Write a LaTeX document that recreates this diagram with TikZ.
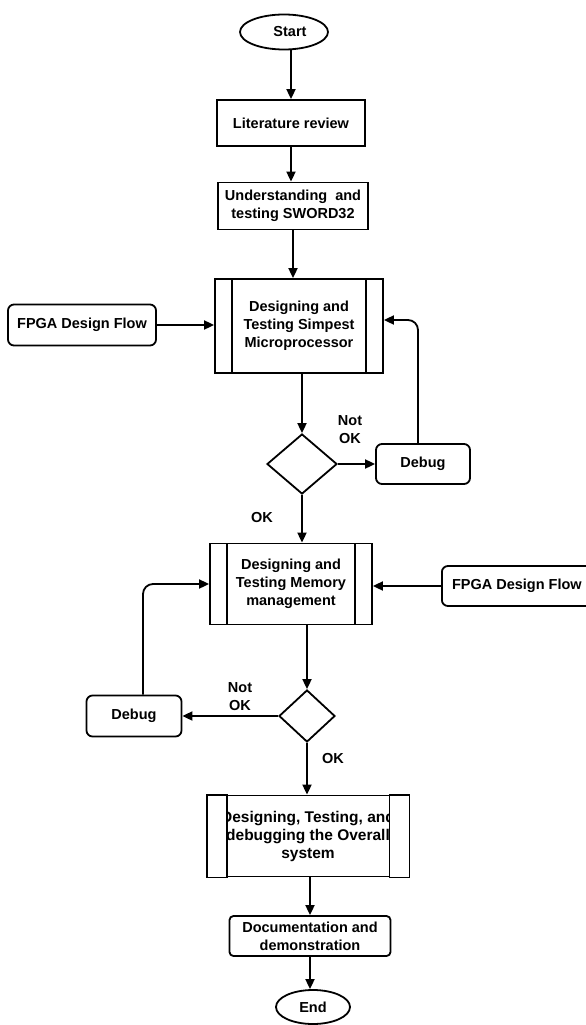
\documentclass[tikz,border=0pt]{standalone}
\usepackage{fontspec}
\setmainfont{Liberation Sans}
\usetikzlibrary{arrows.meta,shapes.geometric}

\begin{document}
\begin{tikzpicture}[x=1pt,y=-1pt,
  every node/.style={font=\bfseries\fontsize{14.5}{18}\selectfont},
  flow/.style={line width=1.8pt,-{Triangle[length=10pt,width=9pt]}},
  box/.style={draw,line width=1.8pt,align=center,inner sep=0pt},
  rbox/.style={box,rounded corners=6pt},
  proc/.style={box,path picture={
      \draw[line width=1.8pt]
        ([xshift=#1]path picture bounding box.north west) -- ([xshift=#1]path picture bounding box.south west)
        ([xshift=-#1]path picture bounding box.north east) -- ([xshift=-#1]path picture bounding box.south east);}},
  proc/.default=17pt,
  strip/.style={draw,fill=white,line width=1.8pt},
  term/.style={draw,ellipse,line width=1.8pt,inner sep=0pt},
  decision/.style={draw,diamond,line width=1.8pt,inner sep=0pt},
  lbl/.style={align=center}
]
\useasboundingbox (0,0) rectangle (586,1025);

% main column
\node[term,minimum width=88,minimum height=35] (start) at (284,32) {\hspace{12pt}Start};
\node[box,minimum width=148,minimum height=46] (lit) at (291,123) {Literature review};
\node[box,minimum width=150,minimum height=47] (sword) at (293,206) {Understanding\ \ and\\testing SWORD32};
\node[proc,minimum width=168,minimum height=94] (p1) at (299,326) {Designing and\\Testing Simpest\\Microprocessor};
\node[rbox,minimum width=148,minimum height=41] (fp1) at (82,325) {FPGA Design Flow};
\node[decision,minimum width=70,minimum height=60] (d1) at (302,464) {};
\node[rbox,minimum width=94,minimum height=40] (dbg1) at (423,464) {Debug};
\node[lbl] (no1) at (350,430) {Not\\OK};
\node[lbl] (ok1) at (262,518) {OK};

\node[proc,minimum width=162,minimum height=81] (p2) at (291,584) {Designing and\\Testing Memory\\management};
\node[rbox,minimum width=150,minimum height=40,anchor=west] (fp2) at (441,586) {FPGA Design Flow};
\node[decision,minimum width=56,minimum height=52] (d2) at (307,716) {};
\node[rbox,minimum width=95,minimum height=41] (dbg2) at (134,716) {Debug};
\node[lbl] (no2) at (240,697) {Not\\OK};
\node[lbl] (ok2) at (333,758) {OK};

% overall system box: side strips are drawn over the text
\node[box,minimum width=201,minimum height=81,font=\bfseries\fontsize{15.5}{18}\selectfont] (p3) at (308,836) {Designing, Testing, and\\debugging the Overall\\system};
\draw[strip] (p3.north west) rectangle ([xshift=20pt]p3.south west);
\draw[strip] (p3.north east) rectangle ([xshift=-20pt]p3.south east);
\node[rbox,rounded corners=4pt,minimum width=161,minimum height=40] (doc) at (310,936) {Documentation and\\demonstration};
\node[term,minimum width=74,minimum height=34] (end) at (313,1007) {End};

% connectors
\draw[flow] (start.south -| lit.north) -- (lit.north);
\draw[flow] (lit.south) -- (lit.south |- sword.north);
\draw[flow] (sword.south) -- (sword.south |- p1.north);
\draw[flow] (fp1.east) -- (fp1.east -| p1.west);
\draw[flow] (p1.south -| d1.north) -- (d1.north);
\draw[flow] (d1.east) -- (d1.east -| dbg1.west);
\draw[flow,rounded corners=10pt] ([xshift=-5pt]dbg1.north) |- ([yshift=6pt]p1.east);
\draw[flow] (d1.south) -- (d1.south |- p2.north);
\draw[flow] (fp2.west) -- (fp2.west -| p2.east);
\draw[flow] (d2.north |- p2.south) -- (d2.north);
\draw[flow] (d2.west) -- (d2.west -| dbg2.east);
\draw[flow,rounded corners=10pt] ([xshift=9pt]dbg2.north) |- (p2.west);
\draw[flow] (d2.south) -- (d2.south |- p3.north);
\draw[flow] (p3.south -| doc.north) -- (doc.north);
\draw[flow] (doc.south) -- (doc.south |- end.north);
\end{tikzpicture}
\end{document}
